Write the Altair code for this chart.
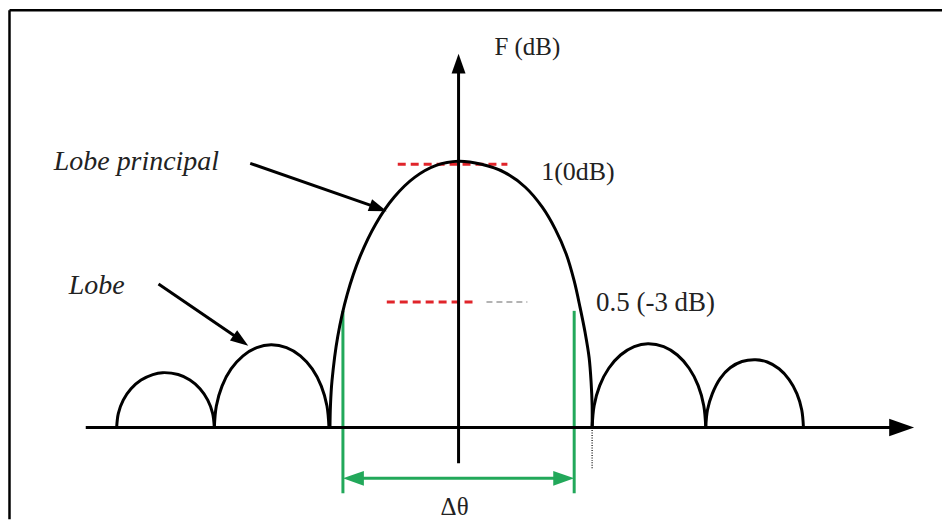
import altair as alt
import pandas as pd

# ---- coordinate frame (page pixels) ----
X0, X1 = 8, 944
Y0, Y1 = 8, 519
W, H = X1 - X0, Y1 - Y0

SERIF = "'Liberation Serif', 'Times New Roman', Times, 'DejaVu Serif', serif"

# ---- radiation pattern lobes (x, y) ----
lobe_a_x = [116, 117.7, 122.6, 130.4, 140.5, 152.3, 162, 177.7, 189.5, 199.6, 207.4, 212.3, 214]
lobe_a_y = [427, 412.8, 399.5, 388.1, 379.4, 373.9, 372, 373.9, 379.4, 388.1, 399.5, 412.8, 427]

lobe_b_x = [214, 216.0, 221.7, 230.8, 242.8, 256.6, 271, 286.4, 300.3, 312.2, 321.3, 327, 329]
lobe_b_y = [427, 405.5, 385.5, 368.3, 355.1, 346.8, 344, 346.8, 355.1, 368.3, 385.5, 405.5, 427]

main_x = [330, 330.5, 332.0, 337.8, 347.3, 360.2, 376.1, 394.5, 414.9, 436.6, 459,
          482, 505, 526, 543, 556, 567, 575, 581, 586, 590, 592, 593, 593]
main_y = [427, 405, 380.6, 335.7, 293.5, 255.4, 222.5, 195.8, 176.1, 164.1, 160,
          163, 171, 186, 206, 228, 253, 280, 307, 332, 357, 382, 405, 427]

lobe_c_x = [593, 595, 600.6, 609.7, 621.5, 635.2, 649, 664.8, 678.5, 690.3, 699.4, 705, 707]
lobe_c_y = [427, 405.3, 385, 367.6, 354.3, 345.9, 343, 345.9, 354.3, 367.6, 385, 405.3, 427]

lobe_d_x = [707, 708.7, 713.6, 721.4, 731.5, 743.3, 757, 768.7, 780.5, 790.6, 798.4, 803.3, 805]
lobe_d_y = [427, 409.4, 393, 377.9, 367.1, 360.8, 359, 361.3, 368.1, 378.9, 393, 409.4, 427]

# ---- straight segments ----
seg_x = [8.5, 8.5, 85, 459, 250, 158]
seg_y = [8.5, 8.5, 427, 463, 162, 283]
seg_x2 = [8.5, 944, 895, 459, 376, 240]
seg_y2 = [519, 8.5, 427, 70, 206, 339]
seg_w = [2.5, 2.5, 3, 3, 3, 3]

green_x = [343, 575, 358]
green_y = [310, 310, 478]
green_x2 = [343, 575, 560]
green_y2 = [493, 493, 478]

red_x = [398, 387]
red_x2 = [508, 477]
red_y = [163, 301]

grey_x, grey_x2, grey_y = [487], [528], [301]
dot_x, dot_y, dot_y2 = [593], [427], [468]

# ---- arrow heads: tip position, angle, size, colour ----
head_x = [916, 459, 387, 248, 343, 575]
head_y = [427, 52, 210, 345, 478, 478]
head_angle = [0, 270, 20, 35, 180, 0]
head_size = [625, 400, 324, 324, 441, 441]
head_color = ["#000000", "#000000", "#000000", "#000000", "#22a85a", "#22a85a"]

# ---- labels ----
ital_text = ["Lobe principal", "Lobe"]
ital_x = [53, 68]
ital_y = [169, 293]

norm_text = ["F (dB)", "1(0dB)", "0.5 (-3 dB)", "\u0394\u03b8"]
norm_x = [495, 542, 597, 441]
norm_y = [53, 179, 310, 515]
norm_size = [25, 26, 27, 25]

xs = alt.Scale(domain=[X0, X1], nice=False, zero=False)
ys = alt.Scale(domain=[Y0, Y1], nice=False, zero=False, reverse=True)


def X(f="x"):
    return alt.X(f"{f}:Q", scale=xs, axis=None)


def Y(f="y"):
    return alt.Y(f"{f}:Q", scale=ys, axis=None)


frames = []
for name, lx, ly in [("A", lobe_a_x, lobe_a_y), ("B", lobe_b_x, lobe_b_y),
                     ("M", main_x, main_y), ("C", lobe_c_x, lobe_c_y),
                     ("D", lobe_d_x, lobe_d_y)]:
    frames.append(pd.DataFrame({"lobe": name, "x": lx, "y": ly, "i": range(len(lx))}))
lobes = pd.concat(frames, ignore_index=True)

lobe_layer = alt.Chart(lobes).mark_line(
    color="black", strokeWidth=3, interpolate="catmull-rom"
).encode(x=X(), y=Y(), detail="lobe:N", order="i:Q")

segs = pd.DataFrame({"x": seg_x, "y": seg_y, "x2": seg_x2, "y2": seg_y2, "w": seg_w})
seg_layer = alt.Chart(segs).mark_rule(color="black", strokeCap="butt").encode(
    x=X(), y=Y(), x2="x2:Q", y2="y2:Q", strokeWidth=alt.StrokeWidth("w:Q", scale=None)
)

greens = pd.DataFrame({"x": green_x, "y": green_y, "x2": green_x2, "y2": green_y2})
green_layer = alt.Chart(greens).mark_rule(color="#22a85a", strokeWidth=3).encode(
    x=X(), y=Y(), x2="x2:Q", y2="y2:Q"
)

reds = pd.DataFrame({"x": red_x, "x2": red_x2, "y": red_y})
red_layer = alt.Chart(reds).mark_rule(
    color="#e0242a", strokeWidth=3, strokeDash=[8, 5]
).encode(x=X(), x2="x2:Q", y=Y())

greys = pd.DataFrame({"x": grey_x, "x2": grey_x2, "y": grey_y})
grey_layer = alt.Chart(greys).mark_rule(
    color="#9a9a9a", strokeWidth=1.5, strokeDash=[6, 4]
).encode(x=X(), x2="x2:Q", y=Y())

dots = pd.DataFrame({"x": dot_x, "y": dot_y, "y2": dot_y2})
dot_layer = alt.Chart(dots).mark_rule(
    color="#333333", strokeWidth=1.5, strokeDash=[1, 1.5]
).encode(x=X(), y=Y(), y2="y2:Q")

heads = pd.DataFrame({"x": head_x, "y": head_y, "a": head_angle,
                      "s": head_size, "c": head_color})
head_layer = alt.Chart(heads).mark_point(
    shape="M0,0L-2,-0.7L-2,0.7Z", filled=True, opacity=1, strokeWidth=0
).encode(
    x=X(), y=Y(),
    angle=alt.Angle("a:Q", scale=None),
    size=alt.Size("s:Q", scale=None),
    color=alt.Color("c:N", scale=None),
)

ital = pd.DataFrame({"t": ital_text, "x": ital_x, "y": ital_y})
ital_layer = alt.Chart(ital).mark_text(
    font=SERIF, fontStyle="italic", fontSize=28, align="left",
    baseline="alphabetic", color="#222222"
).encode(x=X(), y=Y(), text="t:N")

norm = pd.DataFrame({"t": norm_text, "x": norm_x, "y": norm_y, "s": norm_size})
norm_layer = alt.Chart(norm).mark_text(
    font=SERIF, align="left", baseline="alphabetic", color="#222222"
).encode(x=X(), y=Y(), text="t:N", size=alt.Size("s:Q", scale=None))

chart = alt.layer(
    green_layer, red_layer, grey_layer, dot_layer, seg_layer, lobe_layer,
    head_layer, ital_layer, norm_layer
).properties(width=W, height=H, padding=0, background="white").configure_view(stroke=None)

chart.save("out.html", embed_options={"renderer": "svg", "actions": False})
